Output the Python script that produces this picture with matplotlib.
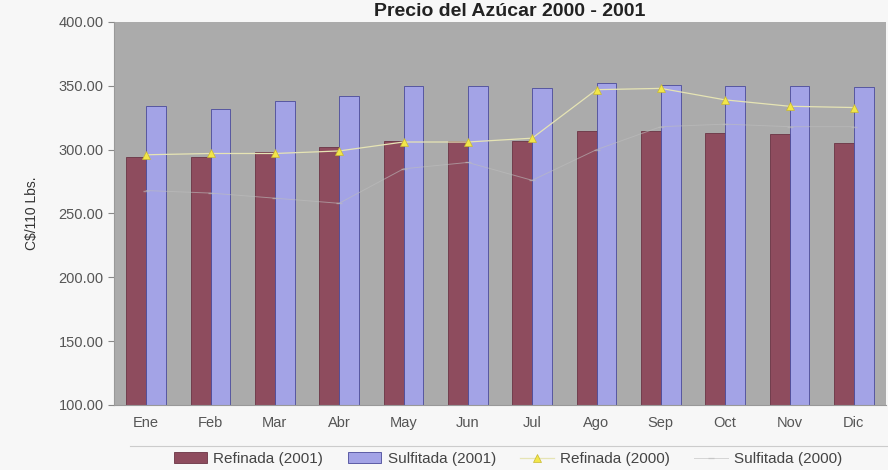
import matplotlib
matplotlib.use("Agg")
import matplotlib.pyplot as plt
import numpy as np

plt.rcParams["font.family"] = ["Liberation Sans", "DejaVu Sans"]

meses = ["Ene", "Feb", "Mar", "Abr", "May", "Jun", "Jul", "Ago", "Sep", "Oct", "Nov", "Dic"]
refinada_2001 = [294, 294, 298, 302, 307, 307, 307, 315, 315, 313, 312, 305]
sulfitada_2001 = [334, 332, 338, 342, 350, 350, 348, 352, 351, 350, 350, 349]
refinada_2000 = [296, 297, 297, 299, 306, 306, 309, 347, 348, 339, 334, 333]
# casi invisible en el original (linea muy clara)
sulfitada_2000 = [268, 266, 262, 258, 285, 290, 276, 300, 318, 320, 318, 318]

C_REF = "#8e4c5e"
C_SUL = "#a3a3e6"
C_REF00 = "#f2e64a"
C_SUL00 = "#bdbdbd"
C_BG = "#ababab"

fig = plt.figure(figsize=(8.88, 4.70), dpi=100)
fig.patch.set_facecolor("#f7f7f7")
ax = fig.add_axes([114 / 888, 1 - 405 / 470, 772 / 888, 383 / 470])
ax.set_facecolor(C_BG)

x = np.arange(len(meses))
w = 0.31
ax.bar(x - w / 2, refinada_2001, w, bottom=0, color=C_REF, edgecolor="#6a3444",
       linewidth=0.6, label="Refinada (2001)")
ax.bar(x + w / 2, sulfitada_2001, w, bottom=0, color=C_SUL, edgecolor="#4a4a9a",
       linewidth=0.6, label="Sulfitada (2001)")
ax.plot(x, sulfitada_2000, color=C_SUL00, lw=0.7, marker="_", ms=4, alpha=0.6,
        label="Sulfitada (2000)")
ax.plot(x, refinada_2000, color="#e6e4b4", lw=0.9, marker="^", ms=6,
        mfc=C_REF00, mec="#c8b830", mew=0.5, label="Refinada (2000)")

ax.set_xlim(-0.5, 11.5)
ax.set_ylim(100, 400)
ax.set_yticks(np.arange(100, 401, 50))
ax.set_yticklabels([f"{v:.2f}" for v in range(100, 401, 50)], fontsize=10.5, color="#555555")
ax.set_xticks(x)
ax.set_xticklabels(meses, fontsize=10.5, color="#555555")
ax.tick_params(axis="y", length=4, color="#888888")
ax.tick_params(axis="x", length=0, pad=8)
for s in ["top", "right"]:
    ax.spines[s].set_visible(False)
ax.spines["left"].set_color("#999999")
ax.spines["bottom"].set_color("#999999")
ax.set_ylabel("C$/110 Lbs.", fontsize=10, color="#333333", labelpad=14)

fig.text(510 / 888, 1 - 16 / 470, "Precio del Azúcar 2000 - 2001", ha="center",
         va="baseline", fontsize=14, fontweight="bold", color="#222222")

h, l = ax.get_legend_handles_labels()
order = [l.index(n) for n in ["Refinada (2001)", "Sulfitada (2001)", "Refinada (2000)", "Sulfitada (2000)"]]
leg = fig.legend([h[i] for i in order], [l[i] for i in order], loc="center",
                 bbox_to_anchor=(508 / 888, 1 - 459 / 470), ncol=4, frameon=False,
                 fontsize=11, handlelength=2.2, columnspacing=1.6, handletextpad=0.4)
for t in leg.get_texts():
    t.set_color("#444444")
fig.add_artist(plt.Line2D([130 / 888, 1.0], [1 - 446 / 470] * 2, color="#cccccc", lw=0.8))

fig.savefig("out.png", dpi=100, facecolor=fig.get_facecolor())
